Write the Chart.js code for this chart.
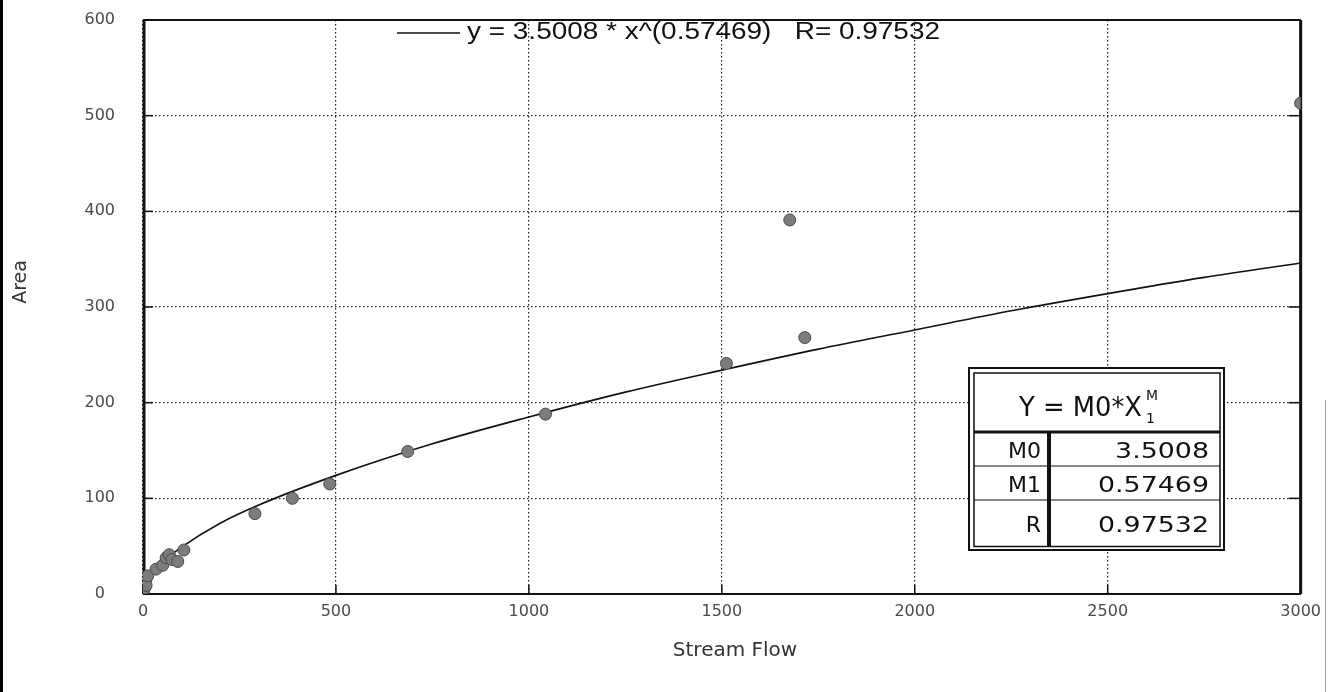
<!DOCTYPE html>
<html>
<head>
<meta charset="utf-8">
<script src="https://cdn.jsdelivr.net/npm/chart.js@4.4.1/dist/chart.umd.min.js"></script>
<style>
  html, body { margin: 0; padding: 0; background: #fff; }
  #wrap { position: relative; width: 1329px; height: 692px; }
  canvas { display: block; }
</style>
</head>
<body>
<div id="wrap"><canvas id="c" width="1329" height="692"></canvas></div>
<script>
// ---- data ----
const flowValues = [1, 2, 3, 5, 6, 9, 4, 8, 12, 34, 51, 60, 68, 75, 90, 106, 290, 387, 484, 686, 1043, 1512, 1676, 1715, 3000];
const areaValues = [3, 5, 8, 11, 14, 17, 6, 9, 19, 26, 30, 38, 41, 36, 34, 46, 84, 100, 115, 149, 188, 241, 391, 268, 513];

// fitted curve
const fitFlow = [0, 10, 25, 50, 100, 200, 300, 500, 750, 1000, 1250, 1500, 1750, 2000, 2250, 2500, 2750, 3000];
const fitArea = [0, 13, 22, 33, 49, 74, 93, 124, 157, 185, 211, 234, 256, 276, 296, 314, 331, 346];

const xTickValues = [0, 500, 1000, 1500, 2000, 2500, 3000];
const yTickValues = [0, 100, 200, 300, 400, 500, 600];

const legendText = 'y = 3.5008 * x^(0.57469)   R= 0.97532';
const xAxisTitle = 'Stream Flow';
const yAxisTitle = 'Area';
const tableHeader = 'Y = M0*X';
const tableSub = '1';
const tableSup = 'M';
const tableLabels = ['M0', 'M1', 'R'];
const tableValues = ['3.5008', '0.57469', '0.97532'];

// ---- helpers ----
function fitText(ctx, text, x, y, width, align) {
  const w = ctx.measureText(text).width;
  const sx = width / w;
  ctx.save();
  let left = x;
  if (align === 'right') left = x - width;
  else if (align === 'center') left = x - width / 2;
  ctx.translate(left, y);
  ctx.scale(sx, 1);
  ctx.textAlign = 'left';
  ctx.fillText(text, 0, 0);
  ctx.restore();
}
function line(ctx, x1, y1, x2, y2) {
  ctx.beginPath(); ctx.moveTo(x1, y1); ctx.lineTo(x2, y2); ctx.stroke();
}

const decor = {
  id: 'decor',
  beforeDraw(chart) {
    const ctx = chart.ctx;
    ctx.save();
    ctx.fillStyle = '#fff';
    ctx.fillRect(0, 0, chart.width, chart.height);
    ctx.restore();
  },
  beforeDatasetsDraw(chart) {
    const { ctx, chartArea: a, scales: { x, y } } = chart;
    ctx.save();
    // plot frame
    ctx.strokeStyle = '#111';
    ctx.lineWidth = 2;
    line(ctx, a.left, a.top, a.right, a.top);
    line(ctx, a.left, a.bottom, a.right, a.bottom);
    ctx.lineWidth = 3;
    line(ctx, a.left + 1, a.top, a.left + 1, a.bottom);
    line(ctx, a.right, a.top, a.right, a.bottom);
    // inward tick marks
    ctx.lineWidth = 1.5;
    yTickValues.forEach(v => {
      const py = y.getPixelForValue(v);
      line(ctx, a.left, py, a.left + 10, py);
      line(ctx, a.right - 12, py, a.right, py);
    });
    xTickValues.forEach(v => {
      const px = x.getPixelForValue(v);
      line(ctx, px, a.bottom, px, a.bottom - 9);
    });
    ctx.restore();
  },
  afterDraw(chart) {
    const { ctx } = chart;
    ctx.save();
    // axis titles
    ctx.fillStyle = '#333';
    ctx.font = '20px "DejaVu Sans"';
    ctx.textBaseline = 'middle';
    ctx.textAlign = 'center';
    ctx.fillText(xAxisTitle, 735, 651);
    ctx.font = '19px "DejaVu Sans"';
    ctx.save();
    ctx.translate(21, 282);
    ctx.rotate(-Math.PI / 2);
    ctx.fillText(yAxisTitle, 0, 0);
    ctx.restore();

    // legend
    ctx.strokeStyle = '#111';
    ctx.lineWidth = 1.5;
    line(ctx, 397, 33, 460, 33);
    ctx.fillStyle = '#111';
    ctx.font = '23px "Liberation Sans"';
    ctx.textBaseline = 'middle';
    fitText(ctx, legendText, 467, 33, 473, 'left');

    // parameter table
    const T = { l: 969, t: 368, r: 1224, b: 550 };
    ctx.fillStyle = '#fff';
    ctx.fillRect(T.l, T.t, T.r - T.l, T.b - T.t);
    ctx.strokeStyle = '#111';
    ctx.lineWidth = 2;
    ctx.strokeRect(T.l, T.t, T.r - T.l, T.b - T.t);
    ctx.lineWidth = 1.5;
    ctx.strokeRect(T.l + 5, T.t + 5, T.r - T.l - 9, T.b - T.t - 8.5);
    ctx.lineWidth = 3;
    line(ctx, T.l + 5, 432, T.r - 4, 432);
    ctx.lineWidth = 1.2;
    line(ctx, T.l + 5, 466, T.r - 4, 466);
    line(ctx, T.l + 5, 500, T.r - 4, 500);
    ctx.lineWidth = 4;
    line(ctx, 1049, 432, 1049, T.b - 4);

    ctx.fillStyle = '#111';
    ctx.textBaseline = 'alphabetic';
    ctx.font = '27px "DejaVu Sans"';
    fitText(ctx, tableHeader, 1019, 416, 123, 'left');
    ctx.font = '14px "DejaVu Sans"';
    ctx.textAlign = 'left';
    ctx.fillText(tableSub, 1146, 423);
    fitText(ctx, tableSup, 1146, 400, 12, 'left');
    const baselines = [458, 492, 532];
    ctx.font = '22px "DejaVu Sans"';
    tableLabels.forEach((s, i) => {
      ctx.textAlign = 'right';
      ctx.fillText(s, 1041, baselines[i]);
    });
    tableValues.forEach((s, i) => {
      const w = ctx.measureText(s).width;
      fitText(ctx, s, 1209, baselines[i], w * 1.22, 'right');
    });

    // scan edges
    ctx.fillStyle = '#000';
    ctx.fillRect(0, 0, 3, chart.height);
    ctx.strokeStyle = '#999';
    ctx.lineWidth = 1;
    line(ctx, 1325.5, 400, 1325.5, chart.height);
    ctx.restore();
  }
};

const tickFont = { family: 'DejaVu Sans', size: 16 };

new Chart(document.getElementById('c'), {
  type: 'scatter',
  data: {
    datasets: [
      {
        label: 'data',
        data: flowValues.map((v, i) => ({ x: v, y: areaValues[i] })),
        backgroundColor: '#7c7c7c',
        borderColor: '#4a4a4a',
        borderWidth: 1,
        pointRadius: 6,
        order: 1
      },
      {
        label: 'fit',
        type: 'line',
        data: fitFlow.map((v, i) => ({ x: v, y: fitArea[i] })),
        borderColor: '#111',
        borderWidth: 1.6,
        pointRadius: 0,
        tension: 0.4,
        cubicInterpolationMode: 'monotone',
        fill: false,
        order: 2
      }
    ]
  },
  options: {
    responsive: false,
    animation: false,
    devicePixelRatio: 1,
    layout: { padding: { left: 0, right: 28, top: 20, bottom: 0 } },
    plugins: { legend: { display: false }, tooltip: { enabled: false } },
    scales: {
      x: {
        type: 'linear',
        min: 0, max: 3000,
        afterFit: s => { s.height = 98; },
        ticks: { stepSize: 500, padding: 8, color: '#4a4a4a', font: tickFont, maxRotation: 0,
                 callback: v => String(v) },
        grid: { color: '#222', lineWidth: 1.2, drawTicks: false },
        border: { display: false, dash: [1.5, 2.5] }
      },
      y: {
        type: 'linear',
        min: 0, max: 600,
        afterFit: s => { s.width = 143; s.paddingTop = 9; s.paddingBottom = 9; },
        ticks: { stepSize: 100, padding: 28, crossAlign: 'center', color: '#4a4a4a', font: tickFont,
                 callback: v => String(v) },
        grid: { color: '#222', lineWidth: 1.2, drawTicks: false },
        border: { display: false, dash: [1.5, 2.5] }
      }
    }
  },
  plugins: [decor]
});
</script>
</body>
</html>
